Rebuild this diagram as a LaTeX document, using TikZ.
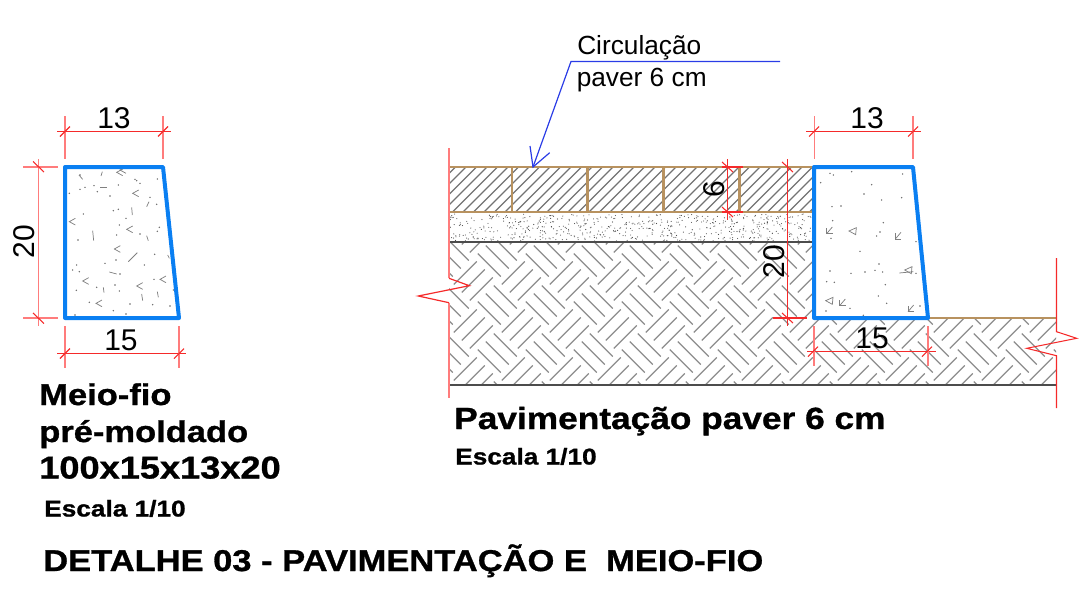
\documentclass[tikz,border=0pt]{standalone}
\usepackage{fontspec}
\usepackage{tikz}
\setmainfont{Liberation Sans}
\newfontfamily\titlefont[FakeStretch=1.15,BoldFeatures={FakeBold=1}]{Liberation Sans}
\definecolor{curbblue}{HTML}{0A7FF2}
\definecolor{pavertan}{HTML}{B8925F}
\definecolor{dimred}{HTML}{F52A2A}
\definecolor{extred}{HTML}{FF7C7C}
\definecolor{leaderblue}{HTML}{2A3CE6}
\tikzset{
    curb/.style={draw=curbblue, line width=3pt, line join=round},
    paverline/.style={draw=pavertan, line width=1.8pt},
    layerline/.style={draw=black!70, line width=0.9pt},
    dimline/.style={draw=dimred, line width=0.8pt},
    extline/.style={draw=extred, line width=0.9pt},
    breakline/.style={draw=dimred, line width=0.9pt},
    hatchline/.style={draw=black!55, line width=0.85pt},
    weaveline/.style={draw=black!45, line width=0.9pt},
    speck/.style={draw=black!50, line width=0.55pt},
    leader/.style={draw=leaderblue, line width=0.9pt},
    dimtext/.style={inner sep=0pt, font=\fontsize{22.5}{22.5}\selectfont},
    notetext/.style={inner sep=0pt, anchor=base west, font=\fontsize{19.7}{19.7}\selectfont},
    bigtitle/.style={inner sep=0pt, anchor=base west, font=\titlefont\bfseries\fontsize{22.5}{22.5}\selectfont},
    smalltitle/.style={inner sep=0pt, anchor=base west, font=\titlefont\bfseries\fontsize{17.1}{17.1}\selectfont}
}

\begin{document}
\begin{tikzpicture}[x=0.75pt, y=-0.75pt]
    \useasboundingbox (0, 0) rectangle (1079, 603);

    % base course weave
    \begin{scope}
        \clip (449, 242) -- (815, 242) -- (815, 318) -- (1056, 318) -- (1056, 385) -- (449, 385) -- cycle;
        \foreach \i in {-1,...,13}
            \foreach \j in {-1,...,3}
                \foreach \k in {-8,0,8} {
                    \draw[weaveline] ({473.3+48*\i+\k-11.5}, {281+48*\j+\k+11.5}) -- ({473.3+48*\i+\k+11.5}, {281+48*\j+\k-11.5});
                    \draw[weaveline] ({497.3+48*\i+\k-11.5}, {257+48*\j-\k-11.5}) -- ({497.3+48*\i+\k+11.5}, {257+48*\j-\k+11.5});
                }
    \end{scope}

    % paver hatch
    \begin{scope}
        \clip (449, 167) rectangle (814, 212);
        \foreach \hx in {400,410.5,...,820}
            \draw[hatchline] (\hx, 212) -- ({\hx+45}, 167);
    \end{scope}

    % sand layer
    \pgfmathsetseed{17}
    \foreach \i in {1,...,600}
        \fill[black!70] ({450+364*rnd}, {214+27*rnd}) circle (0.55);

    % paver and layer lines
    \draw[paverline] (449, 167) -- (814, 167);
    \draw[paverline] (449, 212) -- (814, 212);
    \foreach \jx in {511.7, 587.3, 663.3, 739.3}
        \draw[paverline] (\jx, 167) -- (\jx, 212);
    \draw[layerline] (449, 242) -- (814, 242);
    \draw[layerline] (449, 385) -- (1056, 385);
    \draw[paverline] (928, 318) -- (1056, 318);

    % left curb specks (zoom coordinates)
    \begin{scope}[shift={(0, 90)}, x=0.25pt, y=-0.25pt]
        \foreach \a/\b in {240/255,405/268,420/280,472/267,240/298,255/292,282/287,292/305,330/318,355/285,208/310,410/272,470/343,450/322,340/362,355/358,378/385,250/372,358/405,478/412,472/424,350/435,420/432,234/450,464/493,315/520,348/510,230/525,238/545,218/540,433/525,360/552,462/568,520/600,290/592,345/585,358/603,229/601,268/637,390/642,458/644,510/648,378/672,225/675,340/662}
            \fill[black!60] (\a, \b) circle (0.6pt);
        \foreach \a/\b/\c/\d in {237/255/248/268,303/258/307/245,300/292/320/292,395/352/397/375,440/350/447/335,278/422/281/452,440/437/445/452,385/515/412/488,328/546/350/552,425/612/428/632,472/605/475/622,310/592/312/608,503/495/508/505}
            \draw[speck] (\a, \b) -- (\c, \d);
        \foreach \a/\b in {398/310,380/418,343/477,248/573,288/640,410/588,480/568,208/395,350/247,360/240}
            \draw[speck] ({\a+18}, {\b-10}) -- (\a, \b) -- ({\a+18}, {\b+10});
    \end{scope}

    % right curb specks (zoom coordinates)
    \begin{scope}[shift={(700, 90)}, x=0.25pt, y=-0.25pt]
        \foreach \a/\b in {390/250,400/255,455/245,608/252,362/278,515/284,492/312,545/330,605/323,396/350,423/348,398/392,550/398,540/426,530/438,393/445,648/455,480/484,537/522,390/543,453/550,495/546,525/541,548/546,648/550,380/575,403/577,556/584,535/618,560/640,450/655,378/663,660/648,490/676}
            \fill[black!60] (\a, \b) circle (0.6pt);
        \foreach \a/\b in {388/422,594/438,427/638,632/656} {
            \draw[speck] ({\a+9}, {\b-11}) -- ({\a-8}, {\b+9});
            \draw[speck] ({\a-8}, {\b-8}) -- ({\a-8}, {\b+9}) -- ({\a+10}, {\b+9});
        }
        \foreach \a/\b in {458/423,388/632,625/540}
            \draw[speck] ({\a-11}, {\b}) -- ({\a+11}, {\b-10}) -- ({\a+9}, {\b+11}) -- cycle;
        \draw[speck] (598, 549) -- (640, 545);
    \end{scope}

    % curbs
    \draw[curb] (65, 167) -- (163, 167) -- (179, 318) -- (65, 318) -- cycle;
    \draw[curb] (814, 167) -- (913, 167) -- (928, 318) -- (814, 318) -- cycle;

    % left curb dimensions
    \draw[dimline] (57, 131.5) -- (171, 131.5);
    \draw[extline] (65, 116) -- (65, 159);
    \draw[extline] (163, 116) -- (163, 159);
    \draw[dimline] (60, 136.5) -- (70, 126.5);
    \draw[dimline] (158, 136.5) -- (168, 126.5);
    \node[dimtext] (topleft) at (114, 118.5) {13};

    \draw[extline] (38.3, 159) -- (38.3, 325.5);
    \draw[extline] (23, 167) -- (58, 167);
    \draw[extline] (23, 318) -- (58, 318);
    \draw[dimline] (33, 161.5) -- (44, 172);
    \draw[dimline] (33, 313) -- (44, 323.5);
    \node[dimtext, rotate=90] (heightleft) at (24.5, 241.5) {20};

    \draw[dimline] (57, 353.5) -- (186, 353.5);
    \draw[extline] (65, 326) -- (65, 368);
    \draw[extline] (179, 326) -- (179, 368);
    \draw[dimline] (60, 358.5) -- (70, 348.5);
    \draw[dimline] (174, 358.5) -- (184, 348.5);
    \node[dimtext] (baseleft) at (121, 340.5) {15};

    % right curb dimensions
    \draw[dimline] (806, 131.5) -- (921, 131.5);
    \draw[extline] (814.3, 116) -- (814.3, 159);
    \draw[extline] (913, 116) -- (913, 159);
    \draw[dimline] (809, 136.5) -- (819, 126.5);
    \draw[dimline] (908, 136.5) -- (918, 126.5);
    \node[dimtext] (topright) at (867, 118.5) {13};

    \draw[dimline] (727.7, 159) -- (727.7, 220);
    \draw[dimline] (722, 167) -- (743, 167);
    \draw[dimline] (722, 212) -- (743, 212);
    \draw[dimline] (722, 162) -- (733, 172);
    \draw[dimline] (722, 207) -- (733, 217);
    \node[dimtext, rotate=90] (paverheight) at (714, 189.5) {6};

    \draw[dimline] (787.7, 159) -- (787.7, 326);
    \draw[dimline] (772.7, 318) -- (807, 318);
    \draw[dimline] (782, 162) -- (793, 172);
    \draw[dimline] (782, 313) -- (793, 323);
    \node[dimtext, rotate=90] (heightright) at (774.5, 261.5) {20};

    \draw[dimline] (807, 351.7) -- (936, 351.7);
    \draw[extline] (814, 326) -- (814, 366);
    \draw[extline] (928, 326) -- (928, 366);
    \draw[dimline] (808, 356.7) -- (818, 346.7);
    \draw[dimline] (922, 356.7) -- (932, 346.7);
    \node[dimtext] (baseright) at (872, 338.5) {15};

    % section break lines
    \draw[extline, line width=1pt] (449, 148) -- (449, 278.3);
    \draw[extline, line width=1pt] (449, 302.7) -- (449, 398);
    \draw[breakline] (449, 278.3) -- (469.3, 285.7) -- (418.3, 296) -- (449, 302.7);
    \draw[dimline] (1056.5, 258) -- (1056.5, 331.7) -- (1076.7, 338.3) -- (1026.7, 348.3) -- (1056.5, 355.7) -- (1056.5, 408);

    % leader
    \coordinate (leaderend) at (780, 61.5);
    \coordinate (leaderbend) at (571, 61.5);
    \coordinate (leadertip) at (533, 167);
    \draw[leader] (leaderend) -- (leaderbend) -- (leadertip);
    \draw[leader] (530, 146) -- (leadertip) -- (549.7, 152.7);
    \node[notetext] (notetop) at (577, 54) {Circulação};
    \node[notetext] (notebottom) at (576.5, 86) {paver 6 cm};

    % titles
    \node[bigtitle] (curbtitlea) at (39, 405) {Meio-fio};
    \node[bigtitle] (curbtitleb) at (39, 442) {pré-moldado};
    \node[bigtitle, font=\titlefont\bfseries\fontsize{23.6}{23.6}\selectfont] (curbtitlec) at (39, 478.5) {100x15x13x20};
    \node[smalltitle] (curbscale) at (44, 516.5) {Escala 1/10};
    \node[bigtitle, font=\titlefont\bfseries\fontsize{23}{23}\selectfont] (pavertitle) at (454, 429) {Pavimentação paver 6 cm};
    \node[smalltitle] (paverscale) at (455, 464.5) {Escala 1/10};
    \node[bigtitle] (sheettitle) at (43, 571) {DETALHE 03 - PAVIMENTAÇÃO E\ \ MEIO-FIO};
\end{tikzpicture}
\end{document}
